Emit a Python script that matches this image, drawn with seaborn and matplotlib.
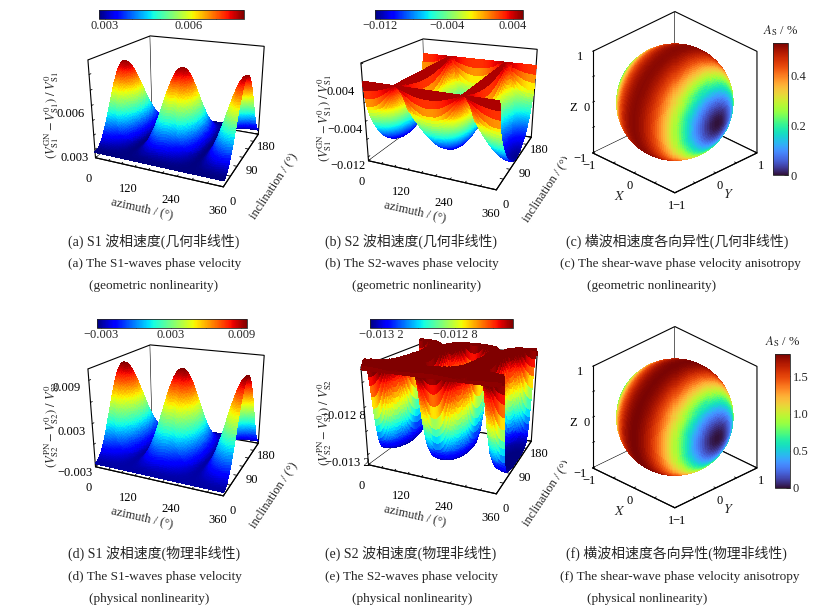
import numpy as np
import matplotlib
matplotlib.use("Agg")
import matplotlib.pyplot as plt
import seaborn as sns
from matplotlib import colors as mcolors
from matplotlib.cm import ScalarMappable

# ---------------- data ----------------
# surface grid (azimuth / inclination, degrees)
azimuth_grid = np.arange(0, 361, 2)
inclination_grid = np.arange(0, 181, 2)
# response profiles versus |cos| of the angle between the wave direction and the X (stress) axis
cos_axis = [0.0, 0.1, 0.2, 0.3, 0.4, 0.5, 0.6, 0.7, 0.8, 0.9, 1.0]
s1_geometric = [0.0028, 0.00285, 0.0030, 0.00326, 0.00362, 0.00408, 0.00464, 0.0053, 0.00606, 0.00693, 0.0079]
s2_geometric = [0.0045, -0.0008, -0.0030, -0.0047, -0.0061, -0.0074, -0.0085, -0.0096, -0.0105, -0.0114, -0.0123]
s1_physical = [-0.0029, -0.00278, -0.0024, -0.00178, -0.00092, 0.0002, 0.00156, 0.00318, 0.00504, 0.00714, 0.0095]
s2_physical = [-0.01250, -0.01244, -0.01243, -0.01262, -0.01292, -0.01312, -0.01321, -0.01324, -0.01325, -0.01326, -0.01326]
anis_geometric = [0.52, 0.515, 0.499, 0.473, 0.437, 0.39, 0.333, 0.265, 0.187, 0.099, 0.0]
anis_physical = [1.80, 1.78, 1.73, 1.64, 1.51, 1.35, 1.15, 0.92, 0.65, 0.34, 0.0]

# colour limits
clim_a = (0.0028, 0.0080)
clim_b = (-0.0126, 0.0052)
clim_c = (0.0, 0.53)
clim_d = (-0.0033, 0.0095)
clim_e = (-0.01326, -0.01249)
clim_f = (0.0, 1.80)

captions = [
    ["(a) S1 波相速度(几何非线性)", "(a) The S1-waves phase velocity", "(geometric nonlinearity)"],
    ["(b) S2 波相速度(几何非线性)", "(b) The S2-waves phase velocity", "(geometric nonlinearity)"],
    ["(c) 横波相速度各向异性(几何非线性)", "(c) The shear-wave phase velocity anisotropy", "(geometric nonlinearity)"],
    ["(d) S1 波相速度(物理非线性)", "(d) The S1-waves phase velocity", "(physical nonlinearity)"],
    ["(e) S2 波相速度(物理非线性)", "(e) The S2-waves phase velocity", "(physical nonlinearity)"],
    ["(f) 横波相速度各向异性(物理非线性)", "(f) The shear-wave phase velocity anisotropy", "(physical nonlinearity)"],
]

# ---------------- style ----------------
sns.set_theme(style="white")
plt.rcParams["font.family"] = ["Liberation Serif", "Noto Sans CJK SC"]
plt.rcParams["mathtext.fontset"] = "stix"
plt.rcParams["axes.unicode_minus"] = True

jet = matplotlib.colormaps["jet"]
turbo = matplotlib.colormaps["turbo"]

W, H = 821, 609
fig = plt.figure(figsize=(W / 100, H / 100), dpi=100)
fig.patch.set_facecolor("white")


def rect(x0, y0, x1, y1):
    return [x0 / W, 1 - y1 / H, (x1 - x0) / W, (y1 - y0) / H]


def style_3d(ax, fs=9):
    for axis in (ax.xaxis, ax.yaxis, ax.zaxis):
        axis.pane.set_facecolor((1, 1, 1, 1))
        axis.pane.set_edgecolor("black")
        axis.pane.set_linewidth(0.8)
        axis.pane.set_alpha(None)
        axis.line.set_color("black")
        axis.line.set_linewidth(0.8)
        axis._axinfo["tick"]["inward_factor"] = 0.0
        axis._axinfo["tick"]["outward_factor"] = 0.3
        axis._axinfo["tick"]["color"] = "black"
        axis._axinfo["tick"]["linewidth"] = {True: 0.6, False: 0.5}
    ax.grid(False)
    ax.tick_params(labelsize=fs, colors="black", pad=0)


def draw_smooth_surface(ax, Xg, Yg, Zg, fc):
    surf = ax.plot_surface(Xg, Yg, Zg, facecolors=fc, rstride=1, cstride=1,
                           linewidth=0, antialiased=False, shade=False)
    try:
        surf.set_edgecolor(fc[:-1, :-1].reshape(-1, 4))
        surf.set_linewidth(0.3)
    except Exception:
        pass
    return surf


def surface_panel(r, profile, clim, zlim, zticks, zlab, zlabel, cbar_r, cticks, clabels):
    ax = fig.add_axes(r, projection="3d", proj_type="persp", focal_length=0.4)
    AZ, INC = np.meshgrid(azimuth_grid, inclination_grid)
    cabs = np.abs(np.sin(np.radians(INC)) * np.cos(np.radians(AZ)))
    Z = np.interp(cabs, cos_axis, profile)
    norm = mcolors.Normalize(*clim)
    draw_smooth_surface(ax, AZ, INC, Z, jet(norm(Z)))
    ax.set_xlim(0, 360)
    ax.set_ylim(0, 180)
    ax.set_zlim(*zlim)
    ax.view_init(elev=20, azim=-66)
    ax.set_box_aspect((1.27, 1.15, 0.95), zoom=1.0)
    style_3d(ax)
    ax.zaxis.set_ticks_position("lower")
    ax.zaxis.set_label_position("lower")
    ax.set_xticks(np.arange(0, 361, 40))
    ax.set_xticklabels([str(t) if t % 120 == 0 else "" for t in range(0, 361, 40)])
    ax.set_yticks(np.arange(0, 181, 30))
    ax.set_yticklabels([str(t) if t % 90 == 0 else "" for t in range(0, 181, 30)])
    ax.tick_params(axis="y", pad=-3)
    ax.set_zticks(zticks)
    ax.set_zticklabels(zlab)
    ax.set_xlabel("azimuth / (°)", fontsize=9, labelpad=-4)
    ax.set_ylabel("inclination / (°)", fontsize=9, labelpad=-3)
    ax.zaxis.set_rotate_label(False)
    ax.set_zlabel(zlabel, fontsize=9, labelpad=-6, rotation=90)
    cax = fig.add_axes(rect(*cbar_r))
    cb = fig.colorbar(ScalarMappable(norm=norm, cmap=jet), cax=cax, orientation="horizontal")
    cb.set_ticks(cticks)
    cb.set_ticklabels(clabels)
    cb.outline.set_linewidth(0.6)
    cb.ax.tick_params(direction="in", length=3, width=0.6, labelsize=9, pad=1, bottom=True)
    return ax


def sphere_panel(r, profile, clim, cbar_r, cticks, clabels):
    ax = fig.add_axes(r, projection="3d", proj_type="ortho")
    u = np.linspace(0, 2 * np.pi, 181)
    v = np.linspace(0, np.pi, 91)
    X = np.outer(np.cos(u), np.sin(v))
    Y = np.outer(np.sin(u), np.sin(v))
    Zs = np.outer(np.ones_like(u), np.cos(v))
    A = np.interp(np.abs(X), cos_axis, profile)
    norm = mcolors.Normalize(*clim)
    draw_smooth_surface(ax, X, Y, Zs, turbo(norm(A)))
    ax.set_xlim(-1, 1); ax.set_ylim(-1, 1); ax.set_zlim(-1, 1)
    ax.view_init(elev=29, azim=-45)
    ax.set_box_aspect((1, 1, 1), zoom=0.93)
    style_3d(ax)
    ax.zaxis.set_ticks_position("lower")
    t = [-1, -0.5, 0, 0.5, 1]
    lab = ["\u22121", "", "0", "", "1"]
    ax.set_xticks(t); ax.set_xticklabels(lab)
    ax.set_yticks(t); ax.set_yticklabels(lab)
    ax.set_zticks(t); ax.set_zticklabels(["\u22121", "", "Z  0", "", "1"])
    ax.tick_params(axis="x", pad=-4)
    ax.tick_params(axis="y", pad=-4)
    ax.tick_params(axis="z", pad=-2)
    ax.set_xlabel("$X$", fontsize=10, labelpad=-8)
    ax.set_ylabel("$Y$", fontsize=10, labelpad=-9)
    cax = fig.add_axes(rect(*cbar_r))
    cb = fig.colorbar(ScalarMappable(norm=norm, cmap=turbo), cax=cax, orientation="vertical")
    cb.set_ticks(cticks)
    cb.set_ticklabels(clabels)
    cb.outline.set_linewidth(0.6)
    cb.ax.tick_params(direction="in", length=3, width=0.6, labelsize=9, pad=2)
    cx = (cbar_r[0] + cbar_r[2]) / 2
    fig.text(cx / W, 1 - (cbar_r[1] - 12) / H, r"$A_{\rm S}$ / %", ha="center", va="center", fontsize=9)
    return ax


lab_a = r"$(V_{\rm S1}^{\rm GN}-V_{\rm S1}^{0})\ /\ V_{\rm S1}^{0}$"
lab_d = r"$(V_{\rm S2}^{\rm PN}-V_{\rm S2}^{0})\ /\ V_{\rm S2}^{0}$"
M = "\u2212"

surface_panel(rect(59, 5, 299, 202), s1_geometric, clim_a, (0.0024, 0.0089),
              [0.003, 0.004, 0.005, 0.006, 0.007, 0.008], ["0.003", "", "", "0.006", "", ""], lab_a,
              (99, 10, 244, 19), [0.003, 0.004, 0.005, 0.006, 0.007], ["0.003", "", "", "0.006", ""])
surface_panel(rect(332, 8, 572, 205), s2_geometric, clim_b, (-0.0129, 0.0082),
              [-0.012, -0.008, -0.004, 0.0, 0.004, 0.008], [M + "0.012", "", M + "0.004", "", "0.004", ""], lab_a,
              (375, 10, 523, 19), [-0.012, -0.008, -0.004, 0.0, 0.004],
              [M + "0.012", "", M + "0.004", "", "0.004"])
sphere_panel(rect(562, 0, 782, 210), anis_geometric, clim_c, (773, 43, 788, 175),
             [0, 0.2, 0.4], ["0", "0.2", "0.4"])

surface_panel(rect(59, 314, 299, 511), s1_physical, clim_d, (-0.0034, 0.0105),
              [-0.003, 0.0, 0.003, 0.006, 0.009], [M + "0.003", "", "0.003", "", "0.009"], lab_d,
              (97, 319, 247, 328), [-0.003, 0.0, 0.003, 0.006, 0.009],
              [M + "0.003", "", "0.003", "", "0.009"])
surface_panel(rect(332, 312, 572, 509), s2_physical, clim_e, (-0.01329, -0.01248),
              [-0.0132, -0.0130, -0.0128, -0.0126], [M + "0.013 2", "", M + "0.012 8", ""], lab_d,
              (370, 319, 513, 328), [-0.0132, -0.0130, -0.0128, -0.0126],
              [M + "0.013 2", "", M + "0.012 8", ""])
sphere_panel(rect(562, 315, 782, 525), anis_physical, clim_f, (775, 354, 790, 488),
             [0, 0.5, 1.0, 1.5], ["0", "0.5", "1.0", "1.5"])

# captions
cap_x = [(68, 68, 89), (325, 325, 352), (566, 560, 587)]
for row, ys in enumerate([(241, 264, 286), (553, 577, 599)]):
    for col in range(3):
        lines = captions[row * 3 + col]
        for k in range(3):
            fig.text(cap_x[col][k] / W, 1 - ys[k] / H, lines[k], ha="left", va="center",
                     fontsize=10 if k == 0 else 9.5)

fig.savefig("out.png", dpi=100, facecolor="white")
